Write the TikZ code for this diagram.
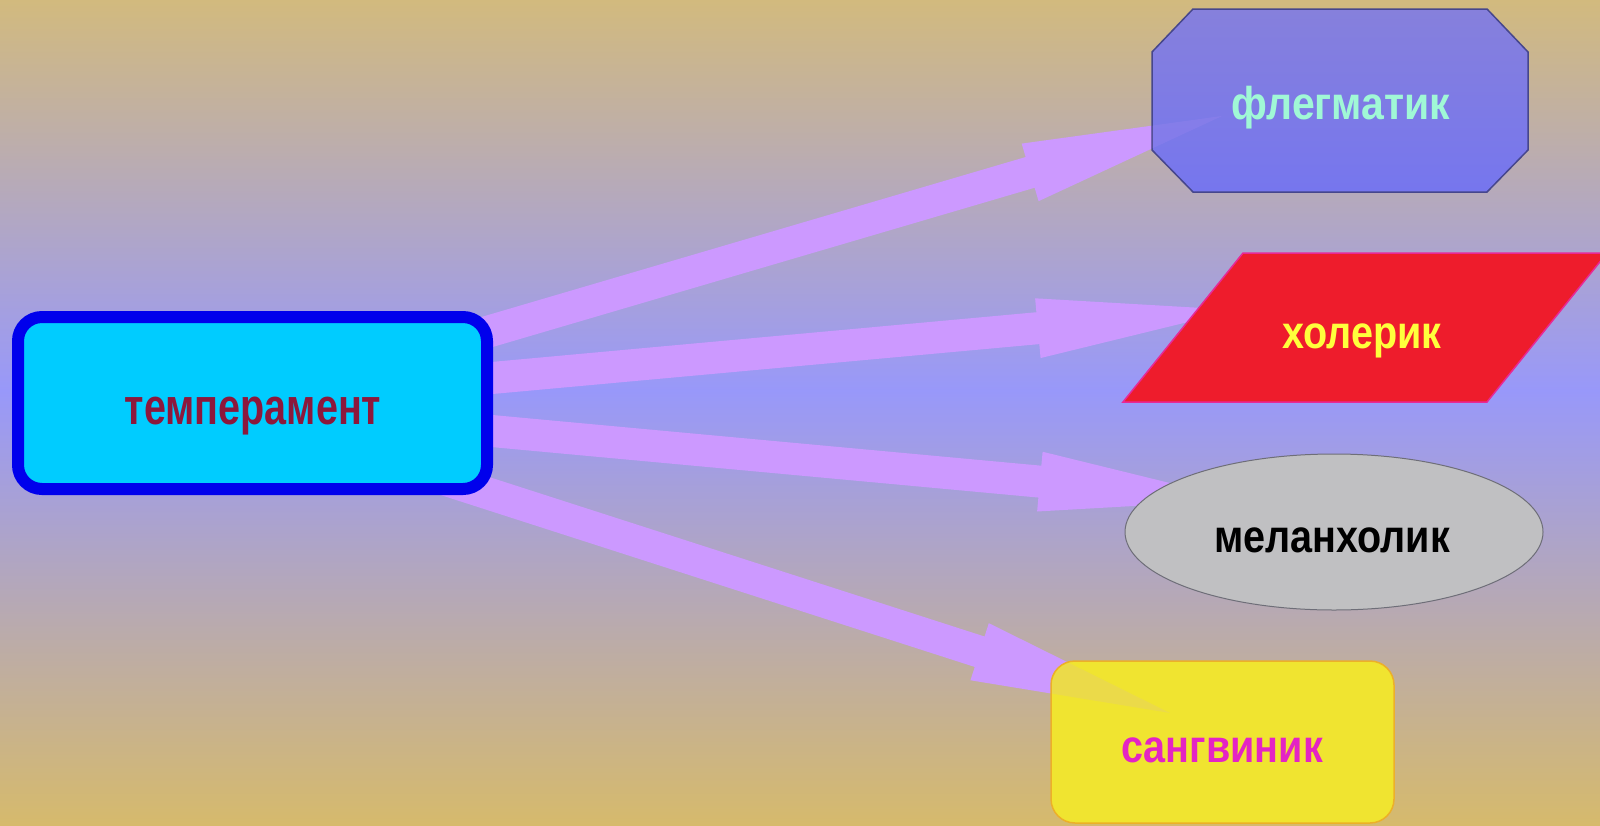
\documentclass[tikz,border=0pt]{standalone}
\usepackage{fontspec}
\usepackage{graphicx}
\usetikzlibrary{calc}
\newfontfamily\lab{Liberation Sans}
\definecolor{bgtop}{RGB}{210,186,126}
\definecolor{bgmid}{RGB}{152,152,250}
\definecolor{bgbot}{RGB}{214,186,108}
\definecolor{arrowc}{RGB}{204,153,255}
\definecolor{tempfill}{RGB}{0,204,255}
\definecolor{tempborder}{RGB}{0,0,236}
\definecolor{temptext}{RGB}{140,24,60}
\definecolor{octtop}{RGB}{134,128,220}
\definecolor{octbot}{RGB}{118,118,238}
\definecolor{octborder}{RGB}{70,70,140}
\definecolor{octtext}{RGB}{160,248,214}
\definecolor{parfill}{RGB}{238,28,44}
\definecolor{parborder}{RGB}{232,40,150}
\definecolor{partext}{RGB}{255,255,60}
\definecolor{ellfill}{RGB}{192,192,194}
\definecolor{ellborder}{RGB}{110,110,120}
\definecolor{sanfill}{RGB}{240,228,48}
\definecolor{sanborder}{RGB}{236,176,40}
\definecolor{santext}{RGB}{228,36,196}
\newcommand\blockarr[3][]{%
  \coordinate (hb) at ($(#3)!200pt!(#2)$);
  \fill[arrowfill,#1] ($(#2)!16pt!90:(#3)$) -- ($(hb)!16pt!-90:(#2)$) -- ($(hb)!30pt!-90:(#2)$) -- (#3) -- ($(hb)!30pt!90:(#2)$) -- ($(hb)!16pt!90:(#2)$) -- ($(#2)!16pt!-90:(#3)$) -- cycle;}
\newcommand\octpath{(1193,9) -- (1487,9) -- (1528,52) -- (1528,150) -- (1487,192) -- (1193,192) -- (1152,150) -- (1152,52) -- cycle}
\tikzset{
  arrowfill/.style={fill=arrowc},
  lab/.style={font={\lab\bfseries\fontsize{46}{50}\selectfont}, inner sep=0pt, anchor=base},
  biglab/.style={font={\lab\bfseries\fontsize{51}{55}\selectfont}, inner sep=0pt, anchor=base},
  tempbox/.style={fill=tempfill, draw=tempborder, line width=12pt, rounded corners=24pt},
  octbox/.style={top color=octtop, bottom color=octbot, draw=octborder, line width=1.5pt},
  parbox/.style={fill=parfill, draw=parborder, line width=1.5pt},
  ellbox/.style={fill=ellfill, draw=ellborder, line width=1pt},
  sanbox/.style={fill=sanfill, draw=sanborder, line width=1.5pt, rounded corners=24pt},
}
\begin{document}
\begin{tikzpicture}[x=1pt,y=-1pt]
\useasboundingbox (0,0) rectangle (1600,825);
% background
\fill[top color=bgtop, bottom color=bgmid] (0,0) rectangle (1600,392);
\fill[top color=bgmid, bottom color=bgbot] (0,390) rectangle (1600,825);
% arrow end points
\coordinate (s1) at (470,337); \coordinate (t1) at (1222,116);
\coordinate (s2) at (470,380); \coordinate (t2) at (1237,310);
\coordinate (s3) at (470,429); \coordinate (t3) at (1239,500);
\coordinate (s4) at (440,478); \coordinate (t4) at (1170,713);
\blockarr{s1}{t1}
\blockarr{s2}{t2}
\blockarr{s3}{t3}
\blockarr{s4}{t4}
% shapes
\draw[tempbox] (18,317) rectangle (487,489);
\draw[octbox] \octpath;
\draw[parbox] (1243,253) -- (1607,253) -- (1487,402) -- (1123,402) -- cycle;
\draw[ellbox] (1334,532) ellipse [x radius=209pt, y radius=78pt];
\draw[sanbox] (1051,661) rectangle (1394,823);
% faint arrow tips seen through the shapes
\begin{scope}
\clip \octpath;
\blockarr[opacity=0.12]{s1}{t1}
\end{scope}
\begin{scope}
\clip[rounded corners=24pt] (1052,662) rectangle (1393,822);
\blockarr[opacity=0.12]{s4}{t4}
\end{scope}
% labels
\node[biglab, text=temptext] (temp) at (253,424) {\scalebox{0.775}[1]{темперамент}};
\node[lab, text=octtext] (fleg) at (1341,119) {\scalebox{0.89}[1]{флегматик}};
\node[lab, text=partext] (chol) at (1362,348) {\scalebox{0.86}[1]{холерик}};
\node[lab, text=black] (mel) at (1332,552) {\scalebox{0.86}[1]{меланхолик}};
\node[lab, text=santext] (sang) at (1222,762) {\scalebox{0.86}[1]{сангвиник}};
\end{tikzpicture}
\end{document}
